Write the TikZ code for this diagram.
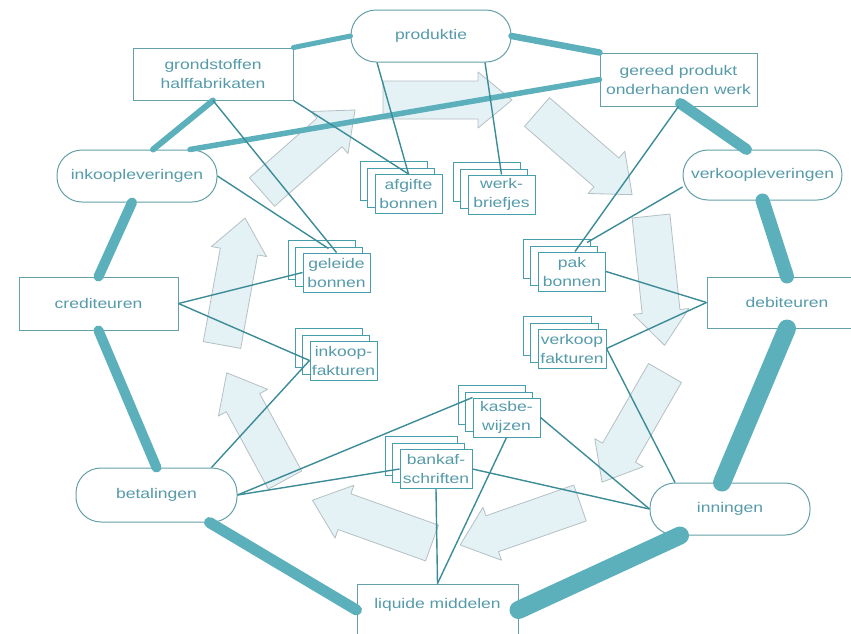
\documentclass[tikz,border=0pt]{standalone}
\usepackage{fontspec}
\newfontfamily\labfont[FakeStretch=1.25]{Liberation Sans}
\definecolor{txt}{RGB}{85,155,170}
\definecolor{bord}{RGB}{100,160,168}
\definecolor{docb}{RGB}{70,158,170}
\definecolor{thkc}{RGB}{92,176,188}
\definecolor{thnc}{RGB}{60,140,152}
\definecolor{arrf}{RGB}{228,241,245}
\definecolor{arrd}{RGB}{180,192,196}
\tikzset{
  lbl/.style={font=\labfont\fontsize{14}{19}\selectfont, text=txt, align=center},
  stad/.style={lbl, draw=bord, line width=1pt, fill=white, rounded corners=25pt, minimum width=160pt, minimum height=52pt, inner sep=0pt},
  rbox/.style={lbl, draw=bord, line width=1pt, fill=white, minimum width=160pt, minimum height=52pt, inner sep=0pt},
  doc/.style={lbl, draw=docb, line width=1pt, fill=white, minimum height=39pt, inner sep=1pt},
  docback/.style={draw=docb, line width=1pt, fill=white},
  thk/.style={draw=thkc, line cap=round},
  thn/.style={draw=thnc, line width=1.4pt},
  pale/.style={fill=arrf, draw=arrd, line width=0.8pt, line join=round},
  pics/fatarrow/.style={code={\draw[pale] (0,-19) -- (#1-34,-19) -- (#1-34,-28) -- (#1,0) -- (#1-34,28) -- (#1-34,19) -- (0,19) -- cycle;}}
}
\newcommand\docnode[5]{%
  \draw[docback] (#2-#4/2-15,#3-19.5-13) rectangle ++(#4,39);
  \draw[docback] (#2-#4/2-8,#3-19.5-6) rectangle ++(#4,39);
  \node[doc, minimum width=#4pt] (#1) at (#2,#3) {#5};
}
\begin{document}
\begin{tikzpicture}[x=1pt,y=-1pt]
\useasboundingbox (0,0) rectangle (851,633);
\fill[white] (0,0) rectangle (851,633);
\clip (0,0) rectangle (851,633);

% pale flow arrows
\pic[rotate=0] at (383,100) {fatarrow=129};
\pic[rotate=-41] at (537,112) {fatarrow=126};
\pic[rotate=-84] at (651,216) {fatarrow=130};
\pic[rotate=-120] at (665,373) {fatarrow=126};
\pic[rotate=199.3] at (580,503) {fatarrow=127};
\pic[rotate=160.3] at (432,543) {fatarrow=127};
\pic[rotate=118.5] at (285,480) {fatarrow=122};
\pic[rotate=79.7] at (222,345) {fatarrow=129};
\pic[rotate=41.4] at (262,192) {fatarrow=124};

% main nodes
\node[stad] (prod) at (431,36) {produktie};
\node[rbox] (grond) at (213,74) {grondstoffen\\halffabrikaten};
\node[rbox, minimum width=157pt, minimum height=53pt] (gereed) at (678.5,79.5) {gereed produkt\\onderhanden werk};
\node[stad] (inkoop) at (137,176) {inkoopleveringen};
\node[stad, minimum width=159pt, minimum height=50pt] (verkoop) at (762.5,175) {verkoopleveringen};
\node[rbox, minimum width=159pt, minimum height=53pt] (cred) at (98.5,303.5) {crediteuren};
\node[rbox, minimum height=51pt] (debit) at (787,302.5) {debiteuren};
\node[stad, minimum width=161pt, minimum height=54pt] (betal) at (156.5,495) {betalingen};
\node[stad] (inning) at (730,509) {inningen};
\node[rbox, minimum width=161pt, text height=10pt, text depth=13pt] (liquide) at (437.5,610) {liquide middelen};

% document stacks
\docnode{afgifte}{408.5}{194}{67}{afgifte\\bonnen}
\docnode{werk}{501.5}{194.5}{67}{werk-\\briefjes}
\docnode{geleide}{336.5}{272.5}{67}{geleide\\bonnen}
\docnode{inkoopf}{343.5}{360.5}{67}{inkoop-\\fakturen}
\docnode{pak}{572}{271.5}{67}{pak\\bonnen}
\docnode{verkoopf}{572}{348.5}{68}{verkoop\\fakturen}
\docnode{kasbe}{506.5}{417.5}{67}{kasbe-\\wijzen}
\docnode{bankaf}{436}{469}{72}{bankaf-\\schriften}

% thick flow connectors
\draw[thk, line width=5pt] (grond.north east) -- (prod.west);
\draw[thk, line width=6.5pt] (prod.east) -- (gereed.north west);
\draw[thk, line width=6pt] ([xshift=16pt]inkoop.north) -- (grond.south);
\draw[thk, line width=5.5pt] ([xshift=53pt]inkoop.north) -- (gereed.west);
\draw[thk, line width=11pt] ([xshift=2pt,yshift=3pt]gereed.south) -- ([xshift=-16pt]verkoop.north);
\draw[thk, line width=14pt] (verkoop.south) -- (debit.north);
\draw[thk, line width=18pt] (debit.south) -- ([xshift=-8pt]inning.north);
\draw[thk, line width=18pt] ([xshift=-50pt]inning.south) -- (liquide.east);
\draw[thk, line width=11pt] ([xshift=53pt]betal.south) -- (liquide.west);
\draw[thk, line width=10pt] (cred.south) -- (betal.north);
\draw[thk, line width=10pt] ([xshift=-5pt]inkoop.south) -- (cred.north);

% thin document connectors
\draw[thn] ([xshift=-54pt]prod.south) -- (afgifte.north);
\draw[thn] ([xshift=54pt]prod.south) -- (werk.north);
\draw[thn] (grond.south east) -- (afgifte.north);
\draw[thn] (grond.south) -- (geleide.north);
\draw[thn] (inkoop.east) -- ([xshift=-8pt,yshift=4pt]geleide.north);
\draw[thn] (cred.east) -- (geleide.west);
\draw[thn] (cred.east) -- (inkoopf.west);
\draw[thn] ([xshift=55pt]betal.north) -- (inkoopf.west);
\draw[thn] (betal.east) -- (kasbe.north west);
\draw[thn] (betal.east) -- (bankaf.west);
\draw[thn] (bankaf.south) -- (liquide.north);
\draw[thn] (kasbe.south) -- (liquide.north);
\draw[thn] (bankaf.east) -- (inning.west);
\draw[thn] (kasbe.east) -- (inning.west);
\draw[thn] (verkoopf.east) -- ([xshift=-55pt]inning.north);
\draw[thn] (verkoopf.east) -- (debit.west);
\draw[thn] (pak.east) -- (debit.west);
\draw[thn] ([yshift=-12pt]verkoop.west) -- ([xshift=15pt,yshift=9pt]pak.north);
\draw[thn] (gereed.south) -- ([xshift=3pt]pak.north);
\end{tikzpicture}
\end{document}
